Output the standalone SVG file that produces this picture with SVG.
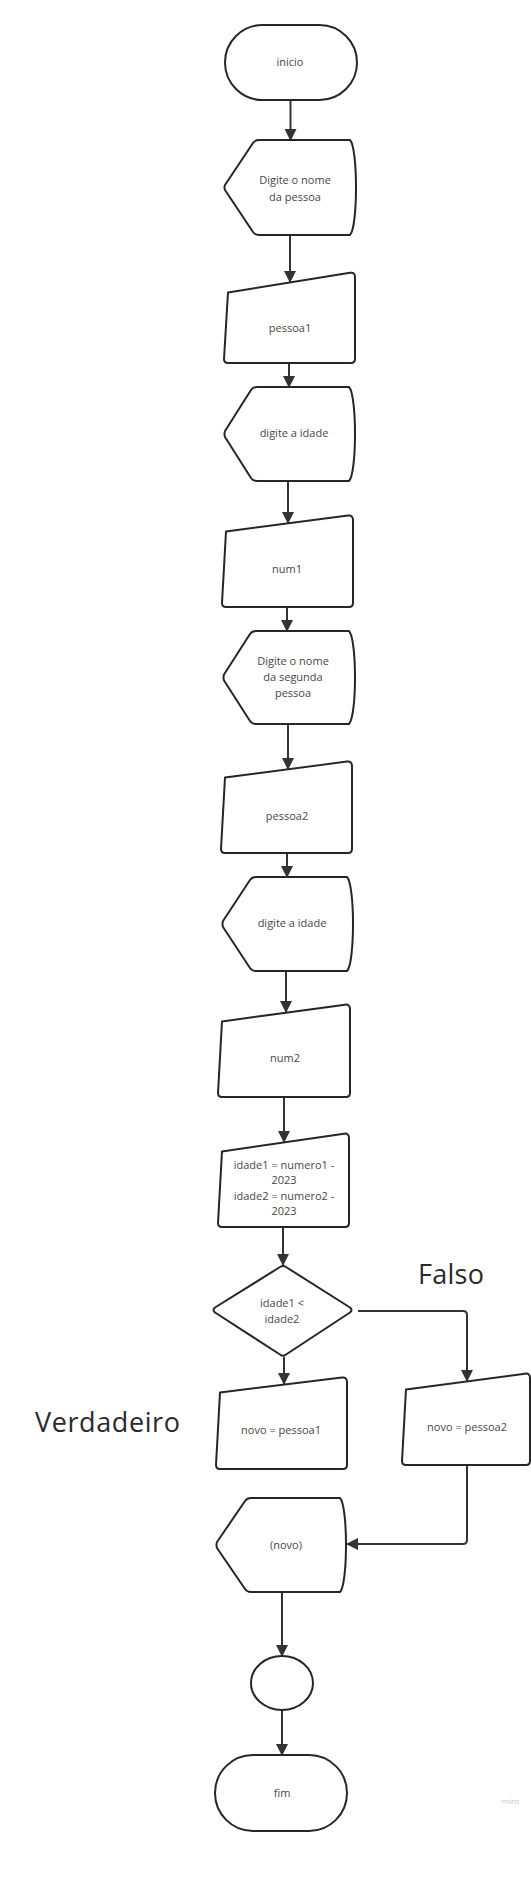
<svg xmlns="http://www.w3.org/2000/svg" width="531" height="1881" viewBox="0 0 531 1881">
<style>
.s{fill:#fff;stroke:#262626;stroke-width:2;stroke-linejoin:round}
.t{font-family:"Open Sans","Liberation Sans",sans-serif;font-size:11px;fill:#474747;text-anchor:middle}
.big{font-family:"Open Sans","Liberation Sans",sans-serif;font-size:27px;fill:#2a2a2a}
.c{fill:none;stroke:#333;stroke-width:2}
</style>
<defs>
<marker id="ah" markerUnits="userSpaceOnUse" markerWidth="12" markerHeight="12" refX="11" refY="6" orient="auto">
<path d="M0,0 L12,6 L0,12 z" fill="#333"/>
</marker>
</defs>
<rect width="531" height="1881" fill="#fff"/>
<g id="connectors">
<path class="c" d="M290.5,100 V140" marker-end="url(#ah)"/>
<path class="c" d="M290,235 V282" marker-end="url(#ah)"/>
<path class="c" d="M289,363 V387" marker-end="url(#ah)"/>
<path class="c" d="M288,481 V523" marker-end="url(#ah)"/>
<path class="c" d="M287,607 V631" marker-end="url(#ah)"/>
<path class="c" d="M288,724 V769" marker-end="url(#ah)"/>
<path class="c" d="M287,853 V877" marker-end="url(#ah)"/>
<path class="c" d="M286,971 V1012" marker-end="url(#ah)"/>
<path class="c" d="M284,1097 V1142" marker-end="url(#ah)"/>
<path class="c" d="M283,1227 V1265" marker-end="url(#ah)"/>
<path class="c" d="M284,1357 V1384" marker-end="url(#ah)"/>
<path class="c" d="M358,1311 H463 Q467,1311 467,1315 V1381" marker-end="url(#ah)"/>
<path class="c" d="M467,1465 V1540 Q467,1544 463,1544 H347" marker-end="url(#ah)"/>
<path class="c" d="M282,1592 V1656" marker-end="url(#ah)"/>
<path class="c" d="M282,1710 V1755" marker-end="url(#ah)"/>
</g>
<g id="inicio">
<rect class="s" x="225" y="25" width="132" height="75" rx="37.5"/>
<text class="t" x="290" y="66">inicio</text>
</g>
<g id="display1">
<path class="s" d="M259,140 H350 C358,148 358,227 350,235 H259 Q255,235 253,232 L225,190 Q224,187.5 225,185 L253,143 Q255,140 259,140 Z"/>
<text class="t" x="295" y="184">Digite o nome</text>
<text class="t" x="295" y="201">da pessoa</text>
</g>
<g id="pessoa1">
<path class="s" d="M228,292.4 L350,272.8 Q355,272 355,277 V359 Q355,363 351,363 H228 Q224,363 224,359 Z"/>
<text class="t" x="290" y="332">pessoa1</text>
</g>
<g id="display2">
<path class="s" d="M257,387 H349 C357,395 357,473 349,481 H257 Q253,481 251,478 L225,437 Q224,434 225,431 L251,390 Q253,387 257,387 Z"/>
<text class="t" x="294" y="437">digite a idade</text>
</g>
<g id="num1">
<path class="s" d="M226,531.5 L348,515.6 Q353,515 353,520 V603 Q353,607 349,607 H226 Q222,607 222,603 Z"/>
<text class="t" x="287" y="573">num1</text>
</g>
<g id="display3">
<path class="s" d="M256,631 H349 C357,639 357,716 349,724 H256 Q252,724 250,721 L224,680.5 Q223,677.5 224,674.5 L250,634 Q252,631 256,631 Z"/>
<text class="t" x="293" y="665">Digite o nome</text>
<text class="t" x="293" y="681">da segunda</text>
<text class="t" x="293" y="697">pessoa</text>
</g>
<g id="pessoa2">
<path class="s" d="M225,777.5 L347,761.6 Q352,761 352,766 V849 Q352,853 348,853 H225 Q221,853 221,849 Z"/>
<text class="t" x="287" y="820">pessoa2</text>
</g>
<g id="display4">
<path class="s" d="M256,877 H347 C355,885 355,963 347,971 H256 Q252,971 250,968 L223,927 Q222,924 223,921 L250,880 Q252,877 256,877 Z"/>
<text class="t" x="292" y="927">digite a idade</text>
</g>
<g id="num2">
<path class="s" d="M222,1021.4 L345,1004.7 Q350,1004 350,1009 V1093 Q350,1097 346,1097 H222 Q218,1097 218,1093 Z"/>
<text class="t" x="285" y="1062">num2</text>
</g>
<g id="calc">
<path class="s" d="M222,1151.4 L344,1133.7 Q349,1133 349,1138 V1223 Q349,1227 345,1227 H222 Q218,1227 218,1223 Z"/>
<text class="t" x="284" y="1169">idade1 = numero1 -</text>
<text class="t" x="284" y="1184">2023</text>
<text class="t" x="284" y="1200">idade2 = numero2 -</text>
<text class="t" x="284" y="1215">2023</text>
</g>
<g id="decisao">
<path class="s" d="M286,1267 L350,1307.5 Q353,1310 350,1312.5 L286,1354.5 Q283,1357 280,1354.5 L215,1312.5 Q212,1310 215,1307.5 L280,1267 Q283,1265 286,1267 Z"/>
<text class="t" x="282" y="1307">idade1 &lt;</text>
<text class="t" x="282" y="1323">idade2</text>
</g>
<g id="novo1">
<path class="s" d="M220,1392.4 L342,1377.6 Q347,1377 347,1382 V1465 Q347,1469 343,1469 H220 Q216,1469 216,1465 Z"/>
<text class="t" x="281" y="1434">novo = pessoa1</text>
</g>
<g id="novo2">
<path class="s" d="M406,1389.4 L525,1373.7 Q530,1373 530,1378 V1461 Q530,1465 526,1465 H406 Q402,1465 402,1461 Z"/>
<text class="t" x="467" y="1431">novo = pessoa2</text>
</g>
<g id="display5">
<path class="s" d="M251,1498 H340 C348,1506 348,1584 340,1592 H251 Q247,1592 245,1589 L217,1548 Q216,1545 217,1542 L245,1501 Q247,1498 251,1498 Z"/>
<text class="t" x="286" y="1549">(novo)</text>
</g>
<g id="conector">
<ellipse class="s" cx="282" cy="1683" rx="31" ry="27"/>
</g>
<g id="fim">
<rect class="s" x="215" y="1755" width="132" height="76" rx="38"/>
<text class="t" x="282" y="1797">fim</text>
</g>
<g id="labels">
<text class="big" x="418" y="1284" textLength="66" lengthAdjust="spacing">Falso</text>
<text class="big" x="35" y="1432" textLength="145" lengthAdjust="spacing">Verdadeiro</text>
<text x="519" y="1804" font-family="Open Sans, Liberation Sans, sans-serif" font-size="8" fill="#c8c8c8" text-anchor="end">miro</text>
</g>
</svg>
